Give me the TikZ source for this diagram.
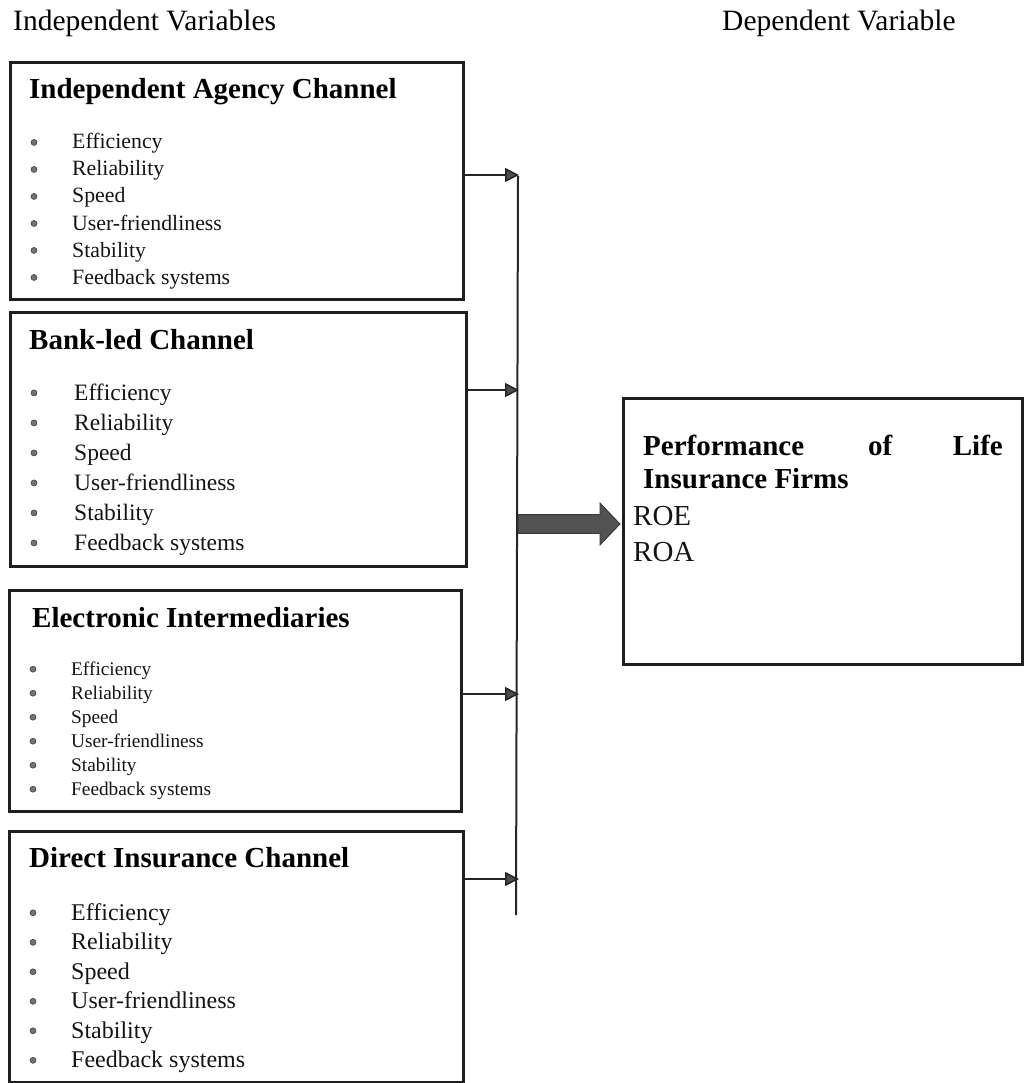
\documentclass[tikz,border=0pt]{standalone}
\usepackage{fontspec}
\setmainfont{Liberation Serif}
\usetikzlibrary{arrows.meta,calc}
\newcommand\drawitems[6]{%
  \foreach \t [count=\i] in {Efficiency,Reliability,Speed,User-friendliness,Stability,Feedback systems}{%
    \node[itm,font=\fontsize{#6}{#6}\selectfont] (#1t\i) at (#3,{#4+(\i-1)*#5}) {\t};
    \node[dot] (#1d\i) at (#2,{#4+(\i-1)*#5-0.3*#6}) {};
  }%
}
\begin{document}
\begin{tikzpicture}[x=1pt,y=-1pt,
  box/.style={draw=black!88,line width=2.6pt,anchor=north west,inner sep=0pt},
  hdr/.style={anchor=base west,inner sep=0pt,font=\fontsize{29.5}{33}\selectfont},
  ttl/.style={anchor=base west,inner sep=0pt,font=\fontsize{29}{33}\selectfont\bfseries},
  itm/.style={anchor=base west,inner sep=0pt,text=black!92},
  dot/.style={circle,fill=black!55,draw=black!75,line width=0.6pt,inner sep=0pt,minimum size=6pt},
  conn/.style={draw=black!85,line width=1.6pt,-{Triangle[length=14pt,width=14pt,fill=black!70]}},
  bus/.style={draw=black!85,line width=2pt},
  fat/.style={fill=black!68,draw=black!80,line width=0.8pt,line join=miter},
  ]
\useasboundingbox (0,0) rectangle (1024,1083);

% headers
\node[hdr] (hind) at (13,31) {Independent Variables};
\node[hdr] (hdep) at (722,31) {Dependent Variable};

% boxes
\node[box,minimum width=453pt,minimum height=237pt] (b1) at (9,61) {};
\node[box,minimum width=456pt,minimum height=254pt] (b2) at (9,311) {};
\node[box,minimum width=452pt,minimum height=221pt] (b3) at (8,589) {};
\node[box,minimum width=454pt,minimum height=251pt] (b4) at (8,830) {};
\node[box,minimum width=399pt,minimum height=266pt] (rb) at (622,397) {};

% titles
\node[ttl] (b1h) at (29,99) {Independent Agency Channel};
\node[ttl] (b2h) at (29,349) {Bank-led Channel};
\node[ttl] (b3h) at (32,627) {Electronic Intermediaries};
\node[ttl] (b4h) at (29,867) {Direct Insurance Channel};

% item lists
\drawitems{b1}{34}{72}{149}{27}{21.8}
\drawitems{b2}{34}{74}{400}{30}{23.5}
\drawitems{b3}{33}{71}{675}{24}{19.3}
\drawitems{b4}{33}{71}{920}{29.5}{24}

% dependent variable box
\node[ttl] (rp) at (643,455) {Performance};
\node[ttl] (ro) at (868,455) {of};
\node[ttl,anchor=base east] (rl) at (1003,455) {Life};
\node[ttl] (ri) at (643,488) {Insurance Firms};
\node[itm,font=\fontsize{29}{33}\selectfont] (roe) at (633,525) {ROE};
\node[itm,font=\fontsize{29}{33}\selectfont] (roa) at (633,561) {ROA};

% bus and connectors
\coordinate (t1) at (519,175);
\coordinate (t2) at (519,390);
\coordinate (t3) at (519,694);
\coordinate (t4) at (519,879);
\coordinate (bustop) at (518,176);
\coordinate (busbot) at (516,915);
\draw[bus] (bustop) -- (busbot);
\draw[conn] (t1 -| b1.east) -- (t1);
\draw[conn] (t2 -| b2.east) -- (t2);
\draw[conn] (t3 -| b3.east) -- (t3);
\draw[conn] (t4 -| b4.east) -- (t4);

% thick arrow
\coordinate (fa) at (518,524);
\coordinate (fatip) at ($(fa -| rb.west)+(-2,0)$);
\draw[fat] ($(fa)+(0,-9.5)$) -- ($(fa)+(82,-9.5)$) -- ($(fa)+(82,-21)$)
  -- (fatip) -- ($(fa)+(82,21)$) -- ($(fa)+(82,9.5)$) -- ($(fa)+(0,9.5)$) -- cycle;
\end{tikzpicture}
\end{document}
